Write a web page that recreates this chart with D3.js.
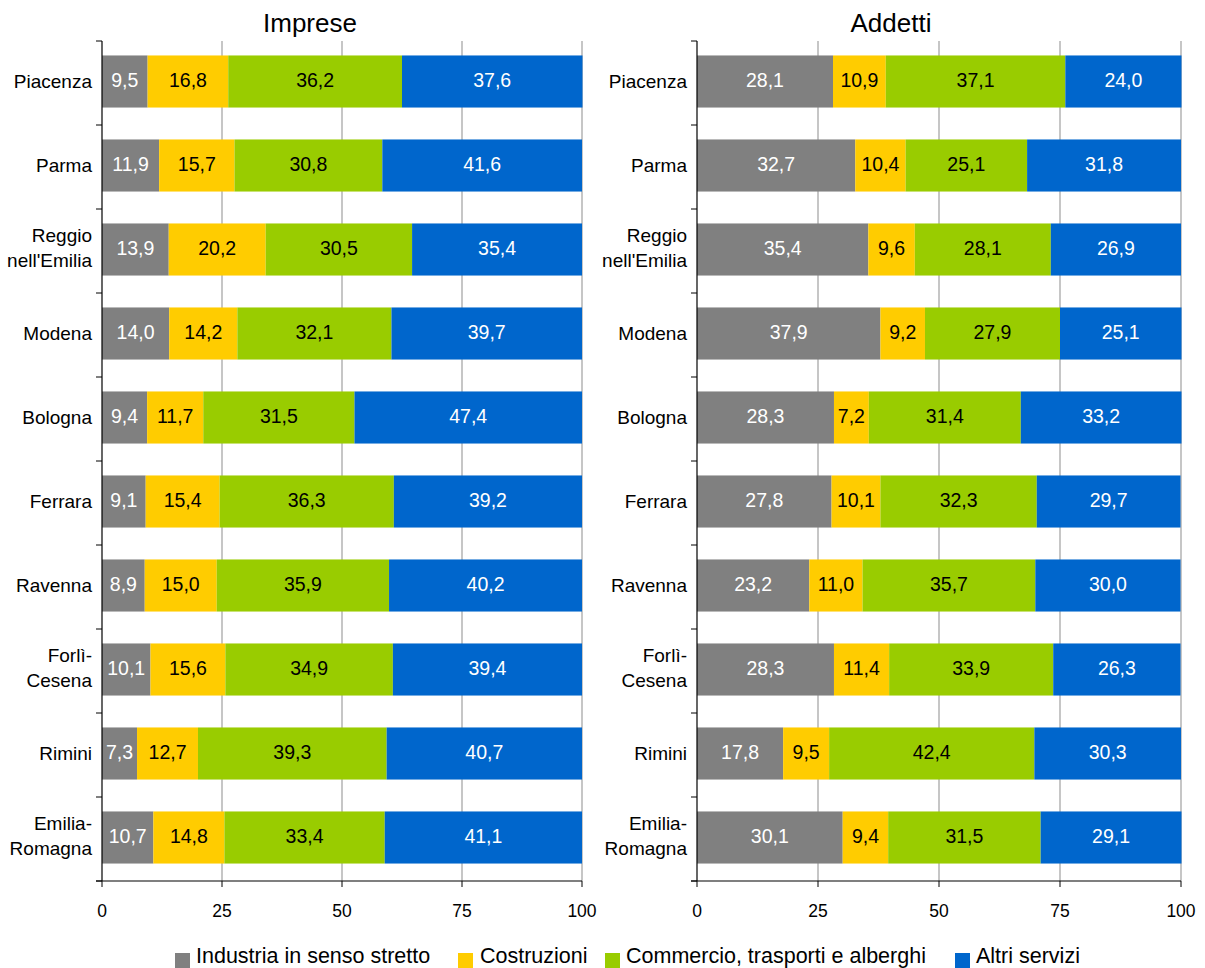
<!DOCTYPE html>
<html><head><meta charset="utf-8">
<script src="https://cdn.jsdelivr.net/npm/d3@7"></script>
<style>body{margin:0;background:#fff}svg{display:block;font-family:"Liberation Sans",Arial,sans-serif}</style>
</head><body>
<svg id="c" width="1205" height="968"></svg>
<script>
const categories = ["Piacenza","Parma","Reggio nell'Emilia","Modena","Bologna","Ferrara","Ravenna","Forlì-Cesena","Rimini","Emilia-Romagna"];
const catLines = [["Piacenza"],["Parma"],["Reggio","nell'Emilia"],["Modena"],["Bologna"],["Ferrara"],["Ravenna"],["Forlì-","Cesena"],["Rimini"],["Emilia-","Romagna"]];
const seriesNames = ["Industria in senso stretto","Costruzioni","Commercio, trasporti e alberghi","Altri servizi"];
const seriesColors = ["#808080","#ffcc00","#99cc00","#0066cc"];
const labelColors = ["#ffffff","#000000","#000000","#ffffff"];
const impIndustria = [9.5,11.9,13.9,14.0,9.4,9.1,8.9,10.1,7.3,10.7];
const impCostruzioni = [16.8,15.7,20.2,14.2,11.7,15.4,15.0,15.6,12.7,14.8];
const impCommercio = [36.2,30.8,30.5,32.1,31.5,36.3,35.9,34.9,39.3,33.4];
const impAltri = [37.6,41.6,35.4,39.7,47.4,39.2,40.2,39.4,40.7,41.1];
const addIndustria = [28.1,32.7,35.4,37.9,28.3,27.8,23.2,28.3,17.8,30.1];
const addCostruzioni = [10.9,10.4,9.6,9.2,7.2,10.1,11.0,11.4,9.5,9.4];
const addCommercio = [37.1,25.1,28.1,27.9,31.4,32.3,35.7,33.9,42.4,31.5];
const addAltri = [24.0,31.8,26.9,25.1,33.2,29.7,30.0,26.3,30.3,29.1];
const xTicks = [0,25,50,75,100];
const panels = [
  {title:"Imprese", tx:310, x0:102, x1:582, series:[impIndustria,impCostruzioni,impCommercio,impAltri]},
  {title:"Addetti", tx:891, x0:697, x1:1181, series:[addIndustria,addCostruzioni,addCommercio,addAltri]}
];
const svg = d3.select("#c");
const plotTop = 41, plotBottom = 881;
const fmt = v => v.toFixed(1).replace(".", ",");

panels.forEach(p => {
  const g = svg.append("g");
  const x = d3.scaleLinear().domain([0,100]).range([p.x0,p.x1]);
  const y = d3.scaleBand().domain(categories).range([plotTop,plotBottom]).paddingInner(0.38).paddingOuter(0.19);
  const yb = d3.scaleBand().domain(categories).range([plotTop,plotBottom]);
  g.selectAll("line.grid").data(xTicks.slice(1)).enter().append("line")
    .attr("x1",d=>x(d)).attr("x2",d=>x(d)).attr("y1",plotTop).attr("y2",plotBottom)
    .attr("stroke","#a0a0a0").attr("stroke-width",1.2);
  const stack = categories.map((c,i)=>{let acc=0;return p.series.map((s,k)=>{const o={c,k,v:s[i],a:acc};acc+=s[i];return o;});}).flat();
  g.selectAll("rect.bar").data(stack).enter().append("rect")
    .attr("x",d=>x(d.a)).attr("width",d=>x(d.a+d.v)-x(d.a))
    .attr("y",d=>y(d.c)-1.5).attr("height",y.bandwidth())
    .attr("fill",d=>seriesColors[d.k]);
  g.selectAll("text.val").data(stack).enter().append("text")
    .attr("x",d=>x(d.a+d.v/2)).attr("y",d=>y(d.c)-1.5+y.bandwidth()/2+5.5)
    .attr("text-anchor","middle")
    .attr("font-size",19.5).attr("fill",d=>labelColors[d.k]).text(d=>fmt(d.v));
  g.append("line").attr("x1",p.x0).attr("x2",p.x0).attr("y1",plotTop).attr("y2",plotBottom).attr("stroke","#000").attr("stroke-width",1.2);
  const bounds = categories.map(c=>yb(c)).concat([plotBottom]);
  g.selectAll("line.yt").data(bounds).enter().append("line")
    .attr("x1",p.x0-6).attr("x2",p.x0).attr("y1",d=>d).attr("y2",d=>d).attr("stroke","#000");
  g.append("line").attr("x1",p.x0-6).attr("x2",p.x1).attr("y1",plotBottom).attr("y2",plotBottom).attr("stroke","#000").attr("stroke-width",1.2);
  g.selectAll("line.xt").data(xTicks).enter().append("line")
    .attr("x1",d=>x(d)).attr("x2",d=>x(d)).attr("y1",plotBottom).attr("y2",plotBottom+6).attr("stroke","#000");
  g.selectAll("text.xl").data(xTicks).enter().append("text")
    .attr("x",d=>x(d)).attr("y",917).attr("text-anchor","middle").attr("font-size",17.5).text(d=>d);
  categories.forEach((c,i)=>{
    const lines = catLines[i];
    const cy = y(c)-1.5+y.bandwidth()/2;
    const t = g.append("text").attr("text-anchor","end").attr("font-size",19).attr("fill","#000");
    lines.forEach((l,j)=>{
      t.append("tspan").attr("x",p.x0-10).attr("y",cy + 6.5 + (j-(lines.length-1)/2)*25 - (lines.length>1?1.5:0)).text(l);
    });
  });
  g.append("text").attr("x",p.tx).attr("y",32).attr("text-anchor","middle").attr("font-size",26).text(p.title);
});
const legSq = [175,458,605,955];
const legTx = [196,480,626,976];
const leg = svg.append("g");
seriesNames.forEach((n,k)=>{
  leg.append("rect").attr("x",legSq[k]).attr("y",953).attr("width",15).attr("height",15).attr("fill",seriesColors[k]);
  leg.append("text").attr("x",legTx[k]).attr("y",963).attr("font-size",21.5).text(n);
});
</script>
</body></html>
